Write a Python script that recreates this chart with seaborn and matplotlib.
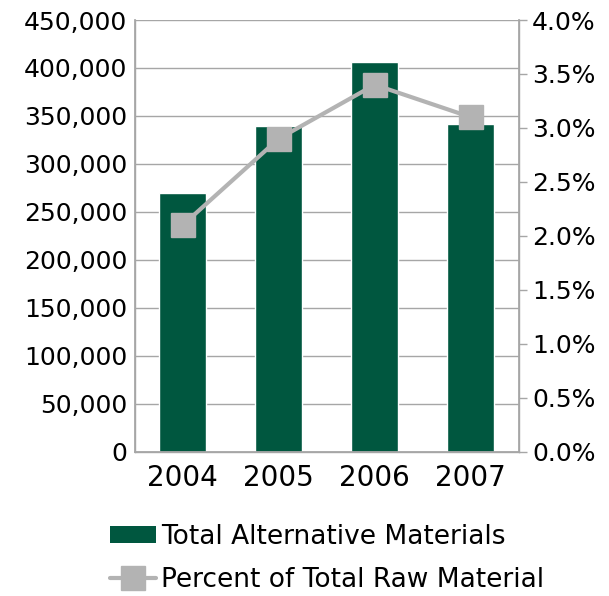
import matplotlib
matplotlib.use("Agg")
import matplotlib.pyplot as plt
import seaborn as sns
from matplotlib.patches import Patch
from matplotlib.lines import Line2D
from matplotlib.ticker import FuncFormatter, MultipleLocator

years = ["2004", "2005", "2006", "2007"]
alt_materials = [270000, 340000, 406000, 342000]
pct_raw = [2.1, 2.9, 3.4, 3.1]

GREEN = "#00573F"
GRAY = "#B3B3B3"
SPINE = "#A6A6A6"
FS = 18

sns.set_theme(style="white")
plt.rcParams["font.family"] = ["DejaVu Sans"]
plt.rcParams["text.color"] = "black"
plt.rcParams["xtick.color"] = "black"
plt.rcParams["ytick.color"] = "black"

fig = plt.figure(figsize=(6.09, 5.96), dpi=100)
ax = fig.add_axes([134.7 / 609, 1 - 451.7 / 596, 384 / 609, 431.7 / 596])

sns.barplot(x=years, y=alt_materials, color=GREEN, saturation=1, width=0.49, ax=ax, zorder=2)
ax.set_ylim(0, 450000)
ax.set_xlim(-0.5, 3.5)
ax.yaxis.set_major_locator(MultipleLocator(50000))
ax.yaxis.set_major_formatter(FuncFormatter(lambda v, p: "0" if v == 0 else f"{int(v):,}"))
ax.grid(axis="y", color=SPINE, linewidth=1.0, zorder=0)
ax.set_axisbelow(True)
ax.tick_params(axis="y", labelsize=FS, length=0, pad=5.5)
ax.tick_params(axis="x", labelsize=20, length=0, pad=9)
for s in ["left", "bottom", "right"]:
    ax.spines[s].set_color(SPINE)
    ax.spines[s].set_linewidth(1.0)
ax.spines["top"].set_visible(False)
ax.set_xlabel("")
ax.set_ylabel("")

ax2 = ax.twinx()
ax2.plot(range(len(years)), pct_raw, color=GRAY, linewidth=3, marker="s",
         markersize=17, zorder=3)
ax2.set_ylim(0, 4.0)
ax2.yaxis.set_major_locator(MultipleLocator(0.5))
ax2.yaxis.set_major_formatter(FuncFormatter(lambda v, p: f"{v:.1f}%"))
ax2.tick_params(axis="y", labelsize=FS, length=6, width=1, color=SPINE, pad=3.5, direction="out")
ax2.grid(False)
for s in ["left", "bottom", "right"]:
    ax2.spines[s].set_color(SPINE)
ax2.spines["top"].set_visible(False)
ax2.set_xlim(-0.5, 3.5)

handles = [
    Patch(facecolor=GREEN, edgecolor="none"),
    Line2D([0], [0], color=GRAY, linewidth=3, marker="s", markersize=17),
]
labels = ["Total Alternative Materials", "Percent of Total Raw Material"]
fig.legend(handles, labels, loc="upper left", bbox_to_anchor=(110 / 609, 1 - 524 / 596),
           frameon=False, fontsize=19, handlelength=1.75, handleheight=0.6,
           handletextpad=0.2, labelspacing=0.65, borderaxespad=0, borderpad=0)

fig.savefig("out.png", dpi=100)
